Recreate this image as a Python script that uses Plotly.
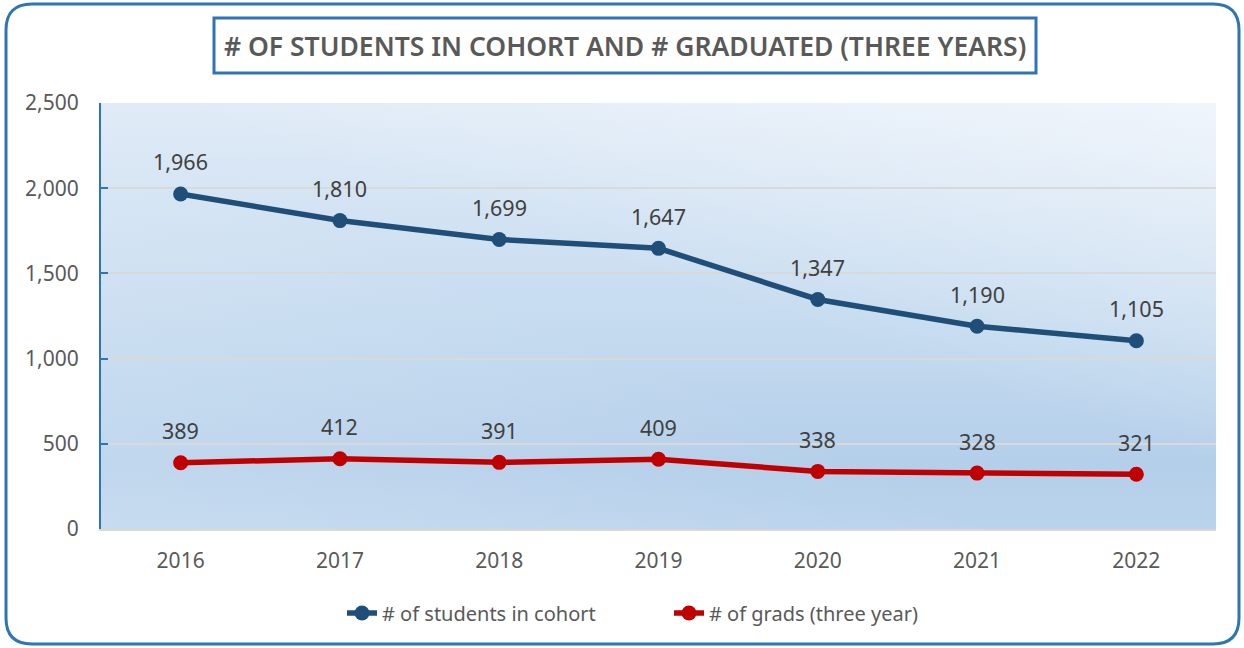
import base64
import plotly.graph_objects as go

years = ["2016", "2017", "2018", "2019", "2020", "2021", "2022"]
cohort = [1966, 1810, 1699, 1647, 1347, 1190, 1105]
grads = [389, 412, 391, 409, 338, 328, 321]
y_ticks = [0, 500, 1000, 1500, 2000, 2500]

title_text = "# OF STUDENTS IN COHORT AND # GRADUATED (THREE YEARS)"
names = ["# of students in cohort", "# of grads (three year)"]
colors = ["#1F4E79", "#C00000"]

W, H = 1244, 648
L, R, T, B = 101, 1216, 103, 529
FONT = "Noto Sans"


def px(x):
    return (x - L) / (R - L)


def py(y):
    return (B - y) / (B - T)


def rounded_path(x0, y0, x1, y1, r):
    pts = [
        ("M", [(x0 + r, y0)]),
        ("L", [(x1 - r, y0)]),
        ("Q", [(x1, y0), (x1, y0 + r)]),
        ("L", [(x1, y1 - r)]),
        ("Q", [(x1, y1), (x1 - r, y1)]),
        ("L", [(x0 + r, y1)]),
        ("Q", [(x0, y1), (x0, y1 - r)]),
        ("L", [(x0, y0 + r)]),
        ("Q", [(x0, y0), (x0 + r, y0)]),
    ]
    s = ""
    for cmd, ps in pts:
        s += cmd + " " + " ".join(f"{px(a):.5f},{py(b):.5f}" for a, b in ps) + " "
    return s + "Z"


# gradient background for the plot area
svg = """<svg xmlns='http://www.w3.org/2000/svg' width='200' height='100' viewBox='0 0 200 100' preserveAspectRatio='none'>
<defs>
<linearGradient id='v' x1='0' y1='0' x2='0' y2='1'>
<stop offset='0' stop-color='#E0EBF7'/>
<stop offset='0.55' stop-color='#C4DAEF'/>
<stop offset='0.85' stop-color='#B4CFEA'/>
<stop offset='1' stop-color='#BAD3EC'/>
</linearGradient>
<linearGradient id='d' x1='1' y1='0' x2='0.3' y2='0.8'>
<stop offset='0' stop-color='#FFFFFF' stop-opacity='0.5'/>
<stop offset='0.6' stop-color='#FFFFFF' stop-opacity='0'/>
</linearGradient>
<linearGradient id='b' x1='0' y1='1' x2='0.5' y2='0.6'>
<stop offset='0' stop-color='#FFFFFF' stop-opacity='0.2'/>
<stop offset='1' stop-color='#FFFFFF' stop-opacity='0'/>
</linearGradient>
</defs>
<rect width='200' height='100' fill='url(#v)'/>
<rect width='200' height='100' fill='url(#d)'/>
<rect width='200' height='100' fill='url(#b)'/>
</svg>"""
bg_uri = "data:image/svg+xml;base64," + base64.b64encode(svg.encode()).decode()

fig = go.Figure()
for vals, name, col in zip([cohort, grads], names, colors):
    fig.add_trace(go.Scatter(
        x=years, y=vals, name=name, mode="lines+markers",
        line=dict(color=col, width=5.5),
        marker=dict(color=col, size=15),
        hoverinfo="x+y",
    ))
    # data labels above each point (category index on the x axis)
    for i, yv in enumerate(vals):
        fig.add_annotation(
            x=i, y=yv, xref="x", yref="y", text=f"{yv:,}", showarrow=False,
            yshift=32,
            font=dict(family=FONT, size=21.5, color="#404040"),
        )

# title
fig.add_annotation(
    x=px(625), y=py(46), xref="paper", yref="paper", text=title_text,
    showarrow=False, xanchor="center", yanchor="middle",
    font=dict(family=FONT, size=26.5, color="#595959", weight=600),
)
fig.add_shape(type="rect", xref="paper", yref="paper",
              x0=px(214), x1=px(1036), y0=py(18), y1=py(73),
              line=dict(color="#2E75B6", width=3), fillcolor="rgba(0,0,0,0)")

# outer rounded border
fig.add_shape(type="path", xref="paper", yref="paper",
              path=rounded_path(6, 4, 1239, 644, 26),
              line=dict(color="#2E75B6", width=3), fillcolor="rgba(0,0,0,0)")

fig.add_layout_image(
    source=bg_uri, xref="paper", yref="paper", x=0, y=1,
    sizex=1, sizey=1, xanchor="left", yanchor="top",
    sizing="stretch", layer="below",
)

fig.update_layout(
    width=W, height=H,
    margin=dict(l=L, r=W - R, t=T, b=H - B),
    paper_bgcolor="white",
    plot_bgcolor="rgba(0,0,0,0)",
    font=dict(family=FONT, size=20, color="#595959"),
    showlegend=True,
    legend=dict(
        orientation="h", x=px(342), xanchor="left", y=py(613), yanchor="middle",
        font=dict(family=FONT, size=20, color="#595959"),
        entrywidth=282, entrywidthmode="pixels",
        tracegroupgap=0, bgcolor="rgba(0,0,0,0)",
    ),
    hovermode="closest",
)
fig.update_xaxes(
    type="category", range=[-0.5, 6.5], showgrid=False,
    showline=True, linecolor="#D9D9D9", linewidth=2,
    ticks="", ticklabelstandoff=12,
    tickfont=dict(family=FONT, size=21, color="#595959"),
)
fig.update_yaxes(
    range=[0, 2500], tickvals=y_ticks, tickformat=",",
    showgrid=True, gridcolor="#D9D9D9", gridwidth=2,
    showline=True, linecolor="#2E75B6", linewidth=2,
    ticks="inside", ticklen=7, tickcolor="#2E75B6", tickwidth=2,
    ticklabelstandoff=16, zeroline=False,
    tickfont=dict(family=FONT, size=21, color="#595959"),
)

# drop the page's default body margin so the figure sits at the window corner
fig.write_html("out.html", config={"displayModeBar": False},
               post_script="document.body.style.margin='0';")
